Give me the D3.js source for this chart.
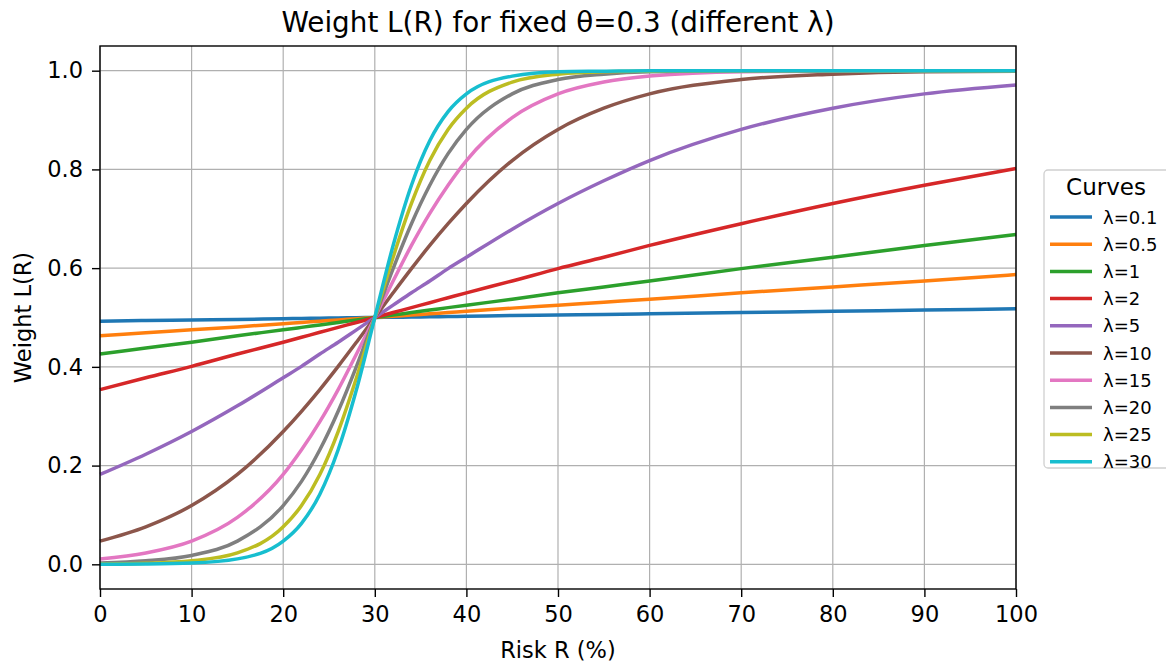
<!DOCTYPE html>
<html>
<head>
<meta charset="utf-8">
<script src="https://cdn.jsdelivr.net/npm/d3@7"></script>
<style>
  body { margin: 0; background: #fff; }
  svg { font-family: "DejaVu Sans", sans-serif; }
</style>
</head>
<body>
<svg width="1166" height="664"></svg>
<script>
// risk values (%) where curves were read
const riskR = [0, 5, 10, 15, 20, 22, 24, 26, 28, 30, 32, 34, 36, 38, 40, 45, 50, 55, 60, 70, 80, 90, 100]

const lambdas = ['0.1', '0.5', '1', '2', '5', '10', '15', '20', '25', '30']

const w01 = [0.4925, 0.494, 0.495, 0.496, 0.4975, 0.498, 0.4985, 0.499, 0.4995, 0.5, 0.5005, 0.501, 0.5015, 0.502, 0.5025, 0.504, 0.505, 0.506, 0.5075, 0.51, 0.5125, 0.515, 0.5175]
const w05 = [0.463, 0.469, 0.475, 0.481, 0.4875, 0.490, 0.4925, 0.495, 0.4975, 0.5, 0.5025, 0.505, 0.5075, 0.510, 0.5125, 0.519, 0.525, 0.531, 0.537, 0.550, 0.562, 0.574, 0.587]
const w1 = [0.426, 0.438, 0.450, 0.463, 0.475, 0.480, 0.485, 0.490, 0.495, 0.5, 0.505, 0.510, 0.515, 0.520, 0.525, 0.537, 0.550, 0.562, 0.574, 0.599, 0.622, 0.646, 0.668]
const w2 = [0.354, 0.378, 0.401, 0.426, 0.450, 0.460, 0.470, 0.480, 0.490, 0.5, 0.510, 0.520, 0.530, 0.540, 0.550, 0.574, 0.599, 0.622, 0.646, 0.690, 0.731, 0.768, 0.802]
const w5 = [0.182, 0.223, 0.269, 0.321, 0.378, 0.401, 0.426, 0.450, 0.475, 0.5, 0.525, 0.550, 0.574, 0.599, 0.622, 0.679, 0.731, 0.777, 0.818, 0.881, 0.924, 0.953, 0.971]
const w10 = [0.047, 0.076, 0.119, 0.182, 0.269, 0.310, 0.354, 0.401, 0.450, 0.5, 0.550, 0.599, 0.646, 0.690, 0.731, 0.818, 0.881, 0.924, 0.953, 0.982, 0.993, 0.998, 0.999]
const w15 = [0.011, 0.023, 0.047, 0.095, 0.182, 0.232, 0.289, 0.354, 0.426, 0.5, 0.574, 0.646, 0.711, 0.768, 0.818, 0.905, 0.953, 0.977, 0.989, 0.998, 0.999, 1.0, 1.0]
const w20 = [0.0025, 0.007, 0.018, 0.047, 0.119, 0.168, 0.232, 0.310, 0.401, 0.5, 0.599, 0.690, 0.768, 0.832, 0.881, 0.953, 0.982, 0.993, 0.998, 1.0, 1.0, 1.0, 1.0]
const w25 = [0.0006, 0.002, 0.007, 0.023, 0.076, 0.119, 0.182, 0.269, 0.378, 0.5, 0.622, 0.731, 0.818, 0.881, 0.924, 0.977, 0.993, 0.998, 0.999, 1.0, 1.0, 1.0, 1.0]
const w30 = [0.0001, 0.0006, 0.0025, 0.011, 0.047, 0.083, 0.142, 0.232, 0.354, 0.5, 0.646, 0.768, 0.858, 0.917, 0.953, 0.989, 0.998, 0.999, 1.0, 1.0, 1.0, 1.0, 1.0]

const weights = [w01, w05, w1, w2, w5, w10, w15, w20, w25, w30]

const xTicks = [0, 10, 20, 30, 40, 50, 60, 70, 80, 90, 100]
const yTicks = [0, 0.2, 0.4, 0.6, 0.8, 1.0]

const colors = ['#1f77b4', '#ff7f0e', '#2ca02c', '#d62728', '#9467bd',
                '#8c564b', '#e377c2', '#7f7f7f', '#bcbd22', '#17becf']

const svg = d3.select('svg')
const margin = {left: 100, right: 150, top: 46, bottom: 75}
const width = 1166 - margin.left - margin.right
const height = 664 - margin.top - margin.bottom

const x = d3.scaleLinear().domain([0, 100]).range([0, width])
const y = d3.scaleLinear().domain([-0.05, 1.05]).range([height, 0])

const g = svg.append('g').attr('transform', `translate(${margin.left},${margin.top})`)

// grid
g.append('g').selectAll('line').data(xTicks).join('line')
  .attr('x1', d => x(d)).attr('x2', d => x(d))
  .attr('y1', 0).attr('y2', height)
  .attr('stroke', '#b0b0b0').attr('stroke-width', 1.2)
g.append('g').selectAll('line').data(yTicks).join('line')
  .attr('y1', d => y(d)).attr('y2', d => y(d))
  .attr('x1', 0).attr('x2', width)
  .attr('stroke', '#b0b0b0').attr('stroke-width', 1.2)

// curves
const line = d3.line()
  .x((d, i) => x(riskR[i]))
  .y(d => y(d))
  .curve(d3.curveMonotoneX)

g.append('g').selectAll('path').data(weights).join('path')
  .attr('d', d => line(d))
  .attr('fill', 'none')
  .attr('stroke', (d, i) => colors[i])
  .attr('stroke-width', 3.5)

// axes
const xAxis = g.append('g').attr('transform', `translate(0,${height})`)
  .call(d3.axisBottom(x).tickValues(xTicks).tickSize(8).tickPadding(9).tickFormat(d3.format('d')))
const yAxis = g.append('g')
  .call(d3.axisLeft(y).tickValues(yTicks).tickSize(8).tickPadding(9).tickFormat(d3.format('.1f')))
for (const ax of [xAxis, yAxis]) {
  ax.select('.domain').remove()
  ax.selectAll('.tick line').attr('stroke', '#000').attr('stroke-width', 1.4)
  ax.selectAll('.tick text').attr('font-size', 22.5).attr('fill', '#000')
    .attr('font-family', '"DejaVu Sans", sans-serif')
}

g.append('rect').attr('width', width).attr('height', height)
  .attr('fill', 'none').attr('stroke', '#000').attr('stroke-width', 1.4)

// labels
svg.append('text').attr('x', margin.left + width / 2).attr('y', 32)
  .attr('text-anchor', 'middle').attr('font-size', 27.8)
  .text('Weight L(R) for fixed θ=0.3 (different λ)')
svg.append('text').attr('x', margin.left + width / 2).attr('y', 658)
  .attr('text-anchor', 'middle').attr('font-size', 22.5)
  .text('Risk R (%)')
svg.append('text')
  .attr('transform', `translate(31,${margin.top + height / 2}) rotate(-90)`)
  .attr('text-anchor', 'middle').attr('font-size', 22.5)
  .text('Weight L(R)')

// legend
const lg = svg.append('g').attr('transform', 'translate(1044,170)')
lg.append('rect').attr('width', 140).attr('height', 298).attr('rx', 4)
  .attr('fill', '#fff').attr('stroke', '#d0d0d0').attr('stroke-width', 1.3)
lg.append('text').attr('x', 62).attr('y', 25).attr('text-anchor', 'middle')
  .attr('font-size', 23).text('Curves')
const items = lg.selectAll('g.item').data(lambdas).join('g')
  .attr('class', 'item')
  .attr('transform', (d, i) => `translate(0,${47 + i * 27.2})`)
items.append('line').attr('x1', 6).attr('x2', 48)
  .attr('stroke', (d, i) => colors[i]).attr('stroke-width', 3.5)
items.append('text').attr('x', 59).attr('y', 6.5).attr('font-size', 18)
  .text(d => 'λ=' + d)
</script>
</body>
</html>
